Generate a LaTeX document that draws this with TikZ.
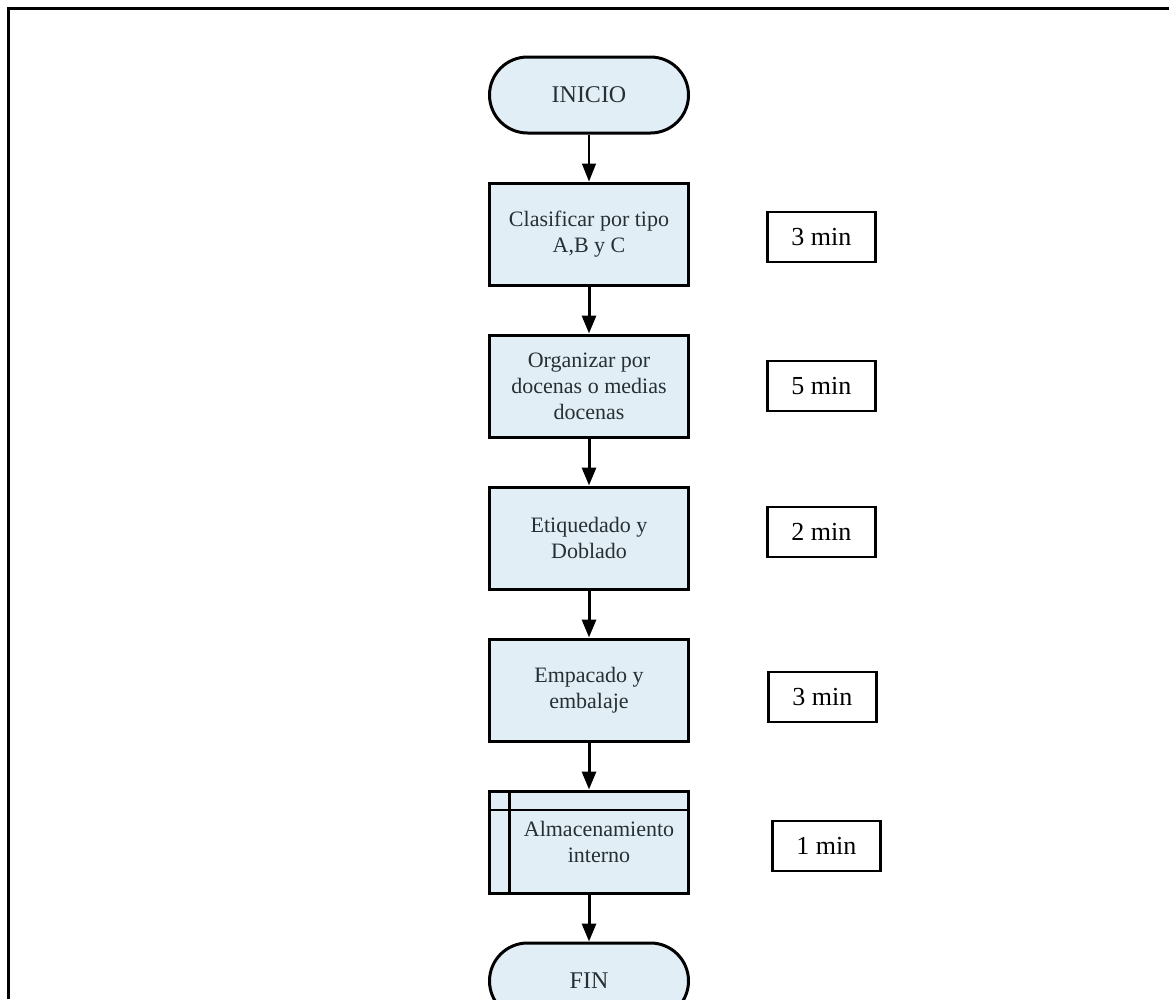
\documentclass[tikz,border=0pt]{standalone}
\usepackage{fontspec}
\setmainfont{Liberation Serif}
\usetikzlibrary{
  arrows.meta,
  positioning
}
\definecolor{fcFill}{HTML}{E2EEF5}
\definecolor{fcText}{HTML}{263034}
\tikzset{
  fcnode/.style={
    draw, line width=3pt, fill=fcFill, text=fcText, align=center,
    minimum width=199pt, minimum height=102pt, inner sep=4pt,
    font=\fontsize{22}{26}\selectfont
  },
  terminal/.style={fcnode, rounded corners=38pt, minimum height=76pt, font=\fontsize{24}{28}\selectfont},
  process/.style={fcnode},
  storage/.style={fcnode,
    path picture={
      \draw[line width=2.6pt]
        ([yshift=-19pt]path picture bounding box.north west) -- ([yshift=-19pt]path picture bounding box.north east)
        ([xshift=20pt]path picture bounding box.north west) -- ([xshift=20pt]path picture bounding box.south west);
    }
  },
  timebox/.style={draw, line width=2.8pt, fill=white, minimum width=108pt, minimum height=50pt, font=\fontsize{26}{30}\selectfont},
  flow/.style={-{Triangle[length=18pt, width=14pt]}, line width=3pt},
  thinflow/.style={flow, line width=1.3pt},
  frame/.style={line width=2.6pt}
}

\begin{document}
\begin{tikzpicture}[x=1pt, y=1pt, node distance=47pt]
  \useasboundingbox (0,0) rectangle (1169,-999);
  \draw[frame] (8.5,-999) -- (8.5,-8.5) -- (1169,-8.5);

  \node[terminal] (inicio) at (589,-95) {INICIO};
  \node[process, below=of inicio] (clasif) {Clasificar por tipo\\A,B y C};
  \node[process, below=of clasif] (organ) {Organizar por\\docenas o medias\\docenas};
  \node[process, below=of organ] (etiq) {Etiquedado y\\Doblado};
  \node[process, below=of etiq] (empac) {Empacado y\\embalaje};
  \node[storage, below=of empac] (almac) {\hspace*{20pt}Almacenamiento\\\hspace*{20pt}interno};
  \node[terminal, below=of almac] (fin) {FIN};

  \node[timebox, right=76pt of clasif, yshift=-3pt] (t1) {3 min};
  \node[timebox, right=76pt of organ] (t2) {5 min};
  \node[timebox, right=76pt of etiq, yshift=6pt] (t3) {2 min};
  \node[timebox, right=77pt of empac, yshift=-7pt] (t4) {3 min};
  \node[timebox, right=81pt of almac, yshift=-4pt] (t5) {1 min};

  \draw[thinflow] (inicio) -- (clasif);
  \draw[flow] (clasif) -- (organ);
  \draw[flow] (organ) -- (etiq);
  \draw[flow] (etiq) -- (empac);
  \draw[flow] (empac) -- (almac);
  \draw[flow] (almac) -- (fin);
\end{tikzpicture}
\end{document}
